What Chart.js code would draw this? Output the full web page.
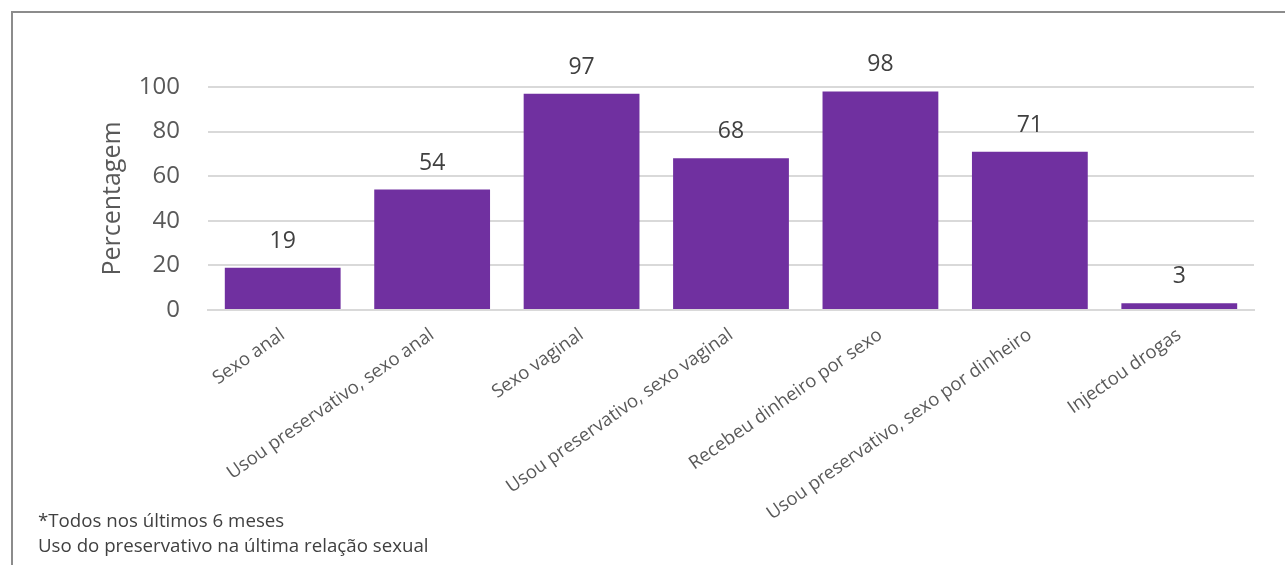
<!DOCTYPE html>
<html>
<head>
<meta charset="utf-8">
<script src="https://cdn.jsdelivr.net/npm/chart.js@4"></script>
<style>
  html, body { margin: 0; padding: 0; background: #fff; overflow: hidden; }
  #frame { position: absolute; left: 11px; top: 11px; width: 1400px; height: 700px;
           border-left: 2px solid #8c8c8c; border-top: 2px solid #8c8c8c; box-sizing: border-box; }
  #wrap { position: absolute; left: 0; top: 0; width: 1285px; height: 565px; }
  #note { position: absolute; left: 38px; top: 507px; font-family: 'Open Sans', sans-serif;
          font-size: 18.7px; line-height: 25px; color: #404040; white-space: nowrap; }
</style>
</head>
<body>
<div id="frame"></div>
<div id="wrap"><canvas id="c" width="1285" height="565"></canvas></div>
<div id="note">*Todos nos últimos 6 meses<br>Uso do preservativo na última relação sexual</div>
<script>
const categories = [
  'Sexo anal',
  'Usou preservativo, sexo anal',
  'Sexo vaginal',
  'Usou preservativo, sexo vaginal',
  'Recebeu dinheiro por sexo',
  'Usou preservativo, sexo por dinheiro',
  'Injectou drogas'
];
const values = [19, 54, 97, 68, 98, 71, 3];
const yTicks = [0, 20, 40, 60, 80, 100];
const yTitle = 'Percentagem';

const valueLabels = {
  id: 'valueLabels',
  afterDatasetsDraw(chart) {
    const ctx = chart.ctx;
    const meta = chart.getDatasetMeta(0);
    ctx.save();
    ctx.font = '23px "Open Sans", sans-serif';
    ctx.fillStyle = '#404040';
    ctx.textAlign = 'center';
    ctx.textBaseline = 'alphabetic';
    meta.data.forEach((bar, i) => {
      ctx.fillText(String(chart.data.datasets[0].data[i]), bar.x, bar.y - 20);
    });
    ctx.restore();
  }
};

new Chart(document.getElementById('c'), {
  type: 'bar',
  data: {
    labels: categories,
    datasets: [{
      data: values,
      backgroundColor: '#7030A0',
      borderWidth: 0,
      categoryPercentage: 1,
      barPercentage: 0.775
    }]
  },
  options: {
    responsive: false,
    animation: false,
    devicePixelRatio: 1,
    layout: { padding: { top: 87, right: 31, left: 0, bottom: 0 } },
    plugins: { legend: { display: false }, tooltip: { enabled: false } },
    scales: {
      x: {
        grid: { display: false, drawTicks: false },
        border: { display: true, color: '#d9d9d9', width: 2 },
        ticks: {
          minRotation: 35, maxRotation: 35, padding: 14, autoSkip: false,
          color: '#595959', font: { family: 'Open Sans', size: 18.5 }
        },
        afterFit(scale) { scale.height = 255; }
      },
      y: {
        min: 0, max: 100,
        afterBuildTicks(scale) { scale.ticks = yTicks.map(v => ({ value: v })); },
        grid: { color: '#d9d9d9', lineWidth: 2, drawTicks: false },
        border: { display: false },
        ticks: { padding: 28, color: '#595959', font: { family: 'Open Sans', size: 24 } },
        title: {
          display: true, text: yTitle, color: '#595959',
          font: { family: 'Open Sans', size: 25 }, padding: { top: 98, bottom: 0 }
        },
        afterFit(scale) { scale.width = 208; }
      }
    }
  },
  plugins: [valueLabels]
});
</script>
</body>
</html>
